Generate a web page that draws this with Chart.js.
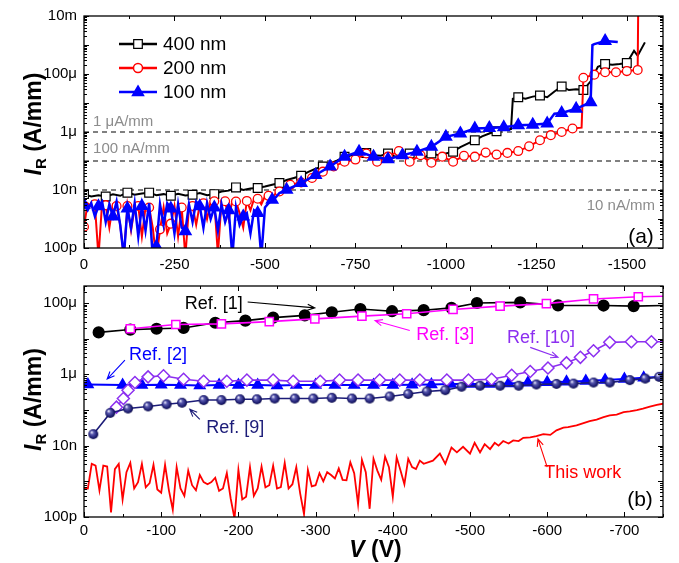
<!DOCTYPE html>
<html>
<head>
<meta charset="utf-8">
<script src="https://cdn.jsdelivr.net/npm/chart.js@4.4.1/dist/chart.umd.min.js"></script>
<style>
  html, body { margin: 0; padding: 0; background: #fff; }
  #wrap { position: relative; width: 679px; height: 563px; }
  canvas { position: absolute; left: 0; }
  #chartA { top: 0; }
  #chartB { top: 270px; }
</style>
</head>
<body>
<div id="wrap">
  <canvas id="chartA" width="679" height="270"></canvas>
  <canvas id="chartB" width="679" height="293"></canvas>
</div>
<script>
const FONT = '"Liberation Sans", Arial, Helvetica, sans-serif';

// ---------- panel (a): axes ----------
const xTicksA = [0, -250, -500, -750, -1000, -1250, -1500];
const yTicksA = [1e-10, 1e-8, 1e-6, 1e-4, 1e-2];
const yLabelsA = ['100p', '10n', '1μ', '100μ', '10m'];
const limitLevels = [1e-6, 1e-7, 1e-8];

// 400 nm
const v400 = [0, -20, -40, -60, -80, -100, -120, -140, -160, -180,
  -200, -220, -240, -260, -280, -300, -320, -340, -360, -380,
  -400, -420, -440, -460, -480, -500, -520, -540, -560, -580,
  -600, -620, -640, -660, -680, -700, -720, -740, -760, -780,
  -800, -820, -840, -860, -880, -900, -920, -940, -960, -980,
  -1000, -1020, -1040, -1060, -1080, -1100, -1120, -1140, -1160, -1180,
  -1185,
  -1200, -1220, -1240, -1260, -1280, -1300, -1320, -1340, -1360, -1380, -1400, -1420, -1440, -1460, -1480, -1500,
  -1520, -1530, -1550];
const i400 = [7.2e-9, 6.0e-9, 6.6e-9, 6.0e-9, 7.1e-9, 6.3e-9, 8.1e-9, 6.9e-9, 7.6e-9, 8.1e-9,
  6.6e-9, 7.2e-9, 6.3e-9, 7.4e-9, 6.5e-9, 6.9e-9, 7.9e-9, 6.6e-9, 7.2e-9, 8.9e-9,
  9.5e-9, 1.23e-8, 1.0e-8, 1.12e-8, 1.17e-8, 1.32e-8, 1.51e-8, 1.74e-8, 2.2e-8, 2.6e-8,
  3.1e-8, 4.2e-8, 5.4e-8, 6.5e-8, 8.3e-8, 1.05e-7, 1.41e-7, 1.58e-7, 1.66e-7, 1.9e-7,
  1.58e-7, 1.51e-7, 1.82e-7, 1.41e-7, 1.66e-7, 1.82e-7, 1.74e-7, 1.32e-7, 1.82e-7, 1.58e-7,
  1.82e-7, 2.1e-7, 3.0e-7, 4.0e-7, 5.2e-7, 7.1e-7, 8.9e-7, 1.07e-6, 1.2e-6, 1.26e-6,
  1.41e-5,
  1.58e-5, 1.41e-5, 1.66e-5, 1.82e-5, 1.58e-5, 2.5e-5, 3.7e-5, 2.8e-5, 3.0e-5, 2.8e-5, 5.6e-5, 1.78e-4, 2.2e-4, 2.1e-4, 2.2e-4, 2.4e-4,
  6.3e-4, 4.3e-4, 1.23e-3];

// 200 nm
const v200 = [0, -10, -20, -30, -40, -50, -60, -70, -80, -90,
  -100, -110, -120, -130, -140, -150, -160, -170, -180, -190,
  -200, -210, -220, -230, -240, -250, -260, -270, -280, -290,
  -300, -310, -320, -330, -340, -350, -360, -370, -380, -390,
  -400, -410, -420, -430, -440, -450, -460, -470, -480, -490,
  -500, -510, -520, -530, -540, -550, -560,
  -570, -600, -630, -660, -690, -720, -750, -780, -810, -840, -870, -900, -930,
  -960, -990, -1020, -1050, -1080, -1110, -1140, -1170, -1200, -1230, -1260, -1290, -1320, -1350,
  -1375, -1380, -1410, -1440, -1470, -1500, -1530, -1532];
const i200 = [5.4e-10, 3.5e-9, 2.8e-9, 3.2e-9, 5e-11, 3.5e-9, 3.0e-9, 5.0e-10, 3.2e-9, 2.8e-9,
  6.3e-10, 5e-11, 2.8e-9, 4.0e-10, 2.5e-9, 2.8e-9, 2.5e-10, 2.5e-9, 2.5e-9, 5.0e-10,
  4e-11, 4.4e-10, 2.5e-9, 3.2e-10, 6.9e-10, 2.8e-9, 2.5e-10, 2.5e-9, 5e-11, 2.5e-9,
  2.8e-9, 6.3e-10, 3.2e-9, 3.5e-9, 1.0e-9, 4.0e-9, 4.1e-9, 6e-11, 4.0e-9, 4.1e-9,
  1.0e-9, 4.5e-9, 4.0e-9, 1.6e-9, 5.0e-10, 4.2e-9, 2.0e-9, 5.0e-9, 5.0e-9, 3.2e-9,
  6.0e-9, 6.3e-9, 5.0e-9, 7.9e-9, 8.9e-9, 1.0e-8, 1.32e-8,
  1.51e-8, 1.82e-8, 2.6e-8, 4.3e-8, 6.5e-8, 9.5e-8, 1.12e-7, 1.82e-7, 9.5e-8, 1.41e-7, 2.2e-7, 9.5e-8, 1.58e-7,
  8.7e-8, 1.41e-7, 9.5e-8, 1.51e-7, 1.41e-7, 1.95e-7, 1.66e-7, 1.9e-7, 2.2e-7, 3.2e-7, 5.2e-7, 7.8e-7, 1.0e-6, 1.32e-6,
  1.41e-6, 7.4e-5, 9.5e-5, 1.15e-4, 1.15e-4, 1.26e-4, 1.38e-4, 0.1];

// 100 nm
const v100 = [0, -10, -20, -30, -40, -50, -60, -70, -80, -90,
  -100, -110, -120, -130, -140, -150, -160, -170, -180, -190,
  -200, -210, -220, -230, -240, -250, -260, -270, -280, -290,
  -300, -310, -320, -330, -340, -350, -360, -370, -380, -390,
  -400, -410, -420, -430, -440, -450, -460, -470, -480, -490,
  -500, -510, -520, -530, -540, -550, -560,
  -600, -640, -680, -720, -760, -800, -840, -880, -920, -960,
  -1000, -1040, -1080, -1120, -1160, -1200, -1240, -1280,
  -1300, -1320, -1360, -1400, -1405, -1410, -1440, -1475];
const i100 = [3.1e-9, 2.0e-9, 3.5e-9, 1.26e-9, 2.75e-9, 4.0e-9, 7.9e-10, 3.2e-9, 1.23e-9, 4.0e-9,
  6.3e-10, 5e-11, 2.3e-9, 5.0e-10, 3.5e-9, 2.5e-10, 2.8e-9, 4.0e-10, 3.5e-9, 5e-11,
  1.12e-10, 3.2e-9, 6.3e-10, 3.5e-9, 2.3e-9, 3.2e-10, 3.2e-9, 5.0e-10, 3.8e-10, 3.2e-9,
  7.9e-10, 4.0e-9, 2.75e-9, 5.0e-10, 3.5e-9, 1.0e-9, 2.5e-9, 4.0e-10, 3.2e-9, 7.9e-10,
  2.0e-9, 5e-11, 2.5e-9, 6.3e-10, 1.23e-9, 1.6e-9, 3.2e-10, 2.0e-9, 1.6e-9, 5e-11,
  2.5e-9, 3.5e-9, 4.6e-9, 5.6e-9, 7.9e-9, 8.9e-9, 1.02e-8,
  1.74e-8, 3.3e-8, 6.5e-8, 1.41e-7, 2.1e-7, 1.41e-7, 1.15e-7, 1.58e-7, 2.1e-7, 3.1e-7,
  6.8e-7, 8.9e-7, 1.32e-6, 1.38e-6, 1.45e-6, 1.7e-6, 1.78e-6, 1.95e-6,
  4.3e-6, 4.5e-6, 6.3e-6, 1.07e-5, 1.0e-3, 1.07e-3, 1.38e-3, 1.26e-3];

// ---------- panel (b): axes ----------
const xTicksB = [0, -100, -200, -300, -400, -500, -600, -700];
const yTicksB = [1e-10, 1e-8, 1e-6, 1e-4];
const yLabelsB = ['100p', '10n', '1μ', '100μ'];

// Ref. [1]
const ref1V = [-19, -60, -94, -129, -170, -209, -245, -286, -321, -358, -399, -440, -476, -509, -565, -614, -673, -712, -750];
const ref1I = [1.5e-5, 1.8e-5, 1.9e-5, 2.0e-5, 2.8e-5, 3.2e-5, 3.9e-5, 4.5e-5, 5.5e-5, 6.8e-5, 5.9e-5, 6.3e-5, 7.3e-5, 1.0e-4, 1.04e-4, 8.6e-5, 8.5e-5, 8.2e-5, 8.5e-5];
// Ref. [3]
const ref3V = [-60, -119, -178, -240, -299, -360, -418, -478, -539, -599, -660, -718, -750];
const ref3I = [1.9e-5, 2.5e-5, 2.6e-5, 3.0e-5, 3.6e-5, 4.3e-5, 5.0e-5, 6.6e-5, 8.2e-5, 9.6e-5, 1.3e-4, 1.5e-4, 1.55e-4];
// Ref. [2]
const ref2V = [-5, -50, -75, -100, -125, -150, -175, -200, -225, -250, -275, -300, -325, -350, -375,
  -400, -425, -450, -475, -500, -525, -550, -575, -600, -625, -650, -675, -700, -725, -750];
const ref2I = [5.2e-7, 5.0e-7, 5.0e-7, 5.1e-7, 5.0e-7, 4.9e-7, 5.0e-7, 5.0e-7, 5.0e-7, 4.9e-7, 5.0e-7, 5.0e-7, 5.0e-7, 5.0e-7, 5.0e-7,
  5.0e-7, 5.1e-7, 5.2e-7, 5.4e-7, 5.4e-7, 5.4e-7, 5.5e-7, 5.8e-7, 6.0e-7, 6.2e-7, 6.5e-7, 6.9e-7, 7.4e-7, 8.0e-7, 8.5e-7];
// Ref. [9]
const ref9V = [-12, -34, -57, -83, -107, -127, -155, -178, -202, -224, -247, -273, -297, -321, -347, -370,
  -396, -420, -444, -468, -489, -513, -539, -563, -586, -612, -634, -660, -681, -707, -727, -745];
const ref9I = [2.1e-8, 8.3e-8, 1.1e-7, 1.26e-7, 1.45e-7, 1.6e-7, 1.9e-7, 1.9e-7, 2.0e-7, 2.0e-7, 2.1e-7, 2.1e-7, 2.1e-7, 2.2e-7, 2.1e-7, 2.1e-7,
  2.4e-7, 2.8e-7, 3.3e-7, 3.6e-7, 4.5e-7, 4.8e-7, 4.8e-7, 4.8e-7, 5.2e-7, 5.4e-7, 5.5e-7, 5.9e-7, 5.9e-7, 6.9e-7, 7.6e-7, 8.5e-7];
// Ref. [10]
const ref10V = [-42, -51, -57, -66, -83, -103, -129, -155, -185, -211, -245, -271, -306, -331, -355, -383,
  -409, -435, -470, -498, -528, -554, -578, -601, -625, -643, -660, -681, -709, -735, -750];
const ref10I = [1.2e-7, 2.1e-7, 3.6e-7, 5.9e-7, 8.5e-7, 9.1e-7, 7.3e-7, 6.4e-7, 6.4e-7, 6.9e-7, 6.9e-7, 6.4e-7, 6.4e-7, 6.9e-7, 6.9e-7, 6.9e-7,
  6.9e-7, 6.9e-7, 6.9e-7, 6.9e-7, 7.3e-7, 9.4e-7, 1.2e-6, 1.5e-6, 2.1e-6, 3.0e-6, 4.6e-6, 7.9e-6, 8.2e-6, 8.2e-6, 8.2e-6];
// This work
const workV = [0, -5, -10, -15, -20, -25, -30, -35, -40, -45,
  -50, -55, -60, -65, -70, -75, -80, -85, -90, -95,
  -100, -105, -110, -115, -120, -125, -130, -135, -140, -145,
  -150, -155, -160, -165, -170, -175, -180, -185, -190, -195,
  -200, -205, -210, -215, -220, -225, -230, -235, -240, -245,
  -250, -255, -260, -265, -270, -275, -280, -285, -290, -295,
  -300, -305, -310, -315, -320, -325, -330, -335, -340, -345,
  -350, -355, -360, -365, -370, -375, -380, -385, -390, -395,
  -400, -405, -410, -415, -420, -425, -430, -435, -440,
  -452, -461, -468, -476, -483, -491, -500, -506, -513, -519, -526, -532, -537, -543, -550, -556, -563, -569, -578, -586,
  -595, -604, -612, -621, -627, -638, -647, -655, -664, -673, -681, -690, -699, -707, -716, -724, -733, -742, -750];
const workI = [6.3e-10, 6.3e-10, 3.1e-9, 2.75e-9, 5.6e-10, 2.75e-9, 2.6e-9, 1.35e-10, 2.2e-9, 3.1e-9,
  3.1e-10, 1.8e-9, 3.3e-9, 6.3e-10, 9.5e-10, 3.1e-9, 6.8e-10, 8.9e-10, 2.9e-9, 5.9e-10,
  4.8e-10, 2.9e-9, 5.6e-10, 1.6e-10, 2.5e-9, 6.3e-10, 3.9e-10, 2.0e-9, 7.8e-10, 5.6e-10,
  1.5e-9, 9.5e-10, 8.3e-10, 9.5e-10, 1.26e-9, 5.4e-10, 6.3e-10, 1.7e-9, 3.3e-10, 9e-11,
  2.1e-9, 3.1e-10, 3.7e-10, 2.5e-9, 3.9e-10, 6.3e-10, 2.6e-9, 6.8e-10, 7.8e-10, 2.75e-9,
  6.3e-10, 6.9e-10, 3.3e-9, 6.3e-10, 8.3e-10, 2.5e-9, 4.6e-10, 1.2e-10, 2.1e-9, 7.2e-10,
  7.8e-10, 1.7e-9, 1.0e-9, 1.8e-9, 1.5e-9, 1.2e-9, 2.3e-9, 1.1e-9, 1.07e-9, 3.4e-9,
  1.7e-9, 2.3e-10, 4.0e-9, 1.8e-9, 1.7e-10, 4.3e-9, 2.0e-9, 1.1e-9, 4.9e-9, 2.5e-9,
  3.7e-10, 4.7e-9, 2.0e-9, 8.3e-10, 4.3e-9, 2.5e-9, 2.2e-9, 3.8e-9, 3.1e-9,
  3.8e-9, 6.0e-9, 3.1e-9, 8.9e-9, 6.5e-9, 9.3e-9, 6.0e-9, 1.2e-8, 6.5e-9, 1.1e-8, 8.0e-9, 1.2e-8, 1.0e-8, 1.35e-8, 1.15e-8, 1.4e-8, 1.35e-8, 1.66e-8, 1.7e-8, 1.85e-8,
  2.1e-8, 2.0e-8, 2.7e-8, 3.2e-8, 3.3e-8, 3.7e-8, 4.3e-8, 4.9e-8, 5.4e-8, 6.3e-8, 7.1e-8, 7.4e-8, 8.7e-8, 9.1e-8, 1.0e-7, 1.1e-7, 1.25e-7, 1.4e-7, 1.5e-7];

// ---------- helpers ----------
const pts = (xs, ys) => xs.map((v, k) => ({ x: v, y: ys[k] }));
const everyV = (xs, step, r) => c => (xs[c.dataIndex] % step === 0 ? r : 0);
const notLast = (xs, r) => c => (c.dataIndex < xs.length - 1 ? r : 0);

function sphere(r) {
  const c = document.createElement('canvas');
  c.width = c.height = 2 * r + 2;
  const g = c.getContext('2d');
  const grad = g.createRadialGradient(r + 1 - r * 0.35, r + 1 - r * 0.4, 0.3, r + 1, r + 1, r + 0.5);
  grad.addColorStop(0, '#f0f0ff');
  grad.addColorStop(0.3, '#5a5ab0');
  grad.addColorStop(0.75, '#1c1c70');
  grad.addColorStop(1, '#0a0a3a');
  g.fillStyle = grad;
  g.beginPath();
  g.arc(r + 1, r + 1, r, 0, Math.PI * 2);
  g.fill();
  return c;
}

function arrow(ctx, x1, y1, x2, y2) {
  const ang = Math.atan2(y2 - y1, x2 - x1), h = 8, s = 0.4;
  ctx.beginPath();
  ctx.moveTo(x1, y1); ctx.lineTo(x2, y2);
  ctx.moveTo(x2 - h * Math.cos(ang - s), y2 - h * Math.sin(ang - s));
  ctx.lineTo(x2, y2);
  ctx.lineTo(x2 - h * Math.cos(ang + s), y2 - h * Math.sin(ang + s));
  ctx.stroke();
}

// box + inward ticks on all four sides
const frame = {
  id: 'frame',
  afterDatasetsDraw(chart, args, o) {
    const { ctx, chartArea: a, scales: { x, y } } = chart;
    ctx.save();
    ctx.strokeStyle = '#000';
    ctx.lineWidth = 1;
    ctx.beginPath();
    const e0 = Math.floor(Math.log10(y.min) + 1e-9), e1 = Math.ceil(Math.log10(y.max));
    for (let e = e0; e <= e1; e++) {
      for (let m = 1; m <= 9; m++) {
        const v = m * Math.pow(10, e);
        if (v < y.min * 0.999 || v > y.max * 1.001) continue;
        const py = Math.round(y.getPixelForValue(v)) + 0.5;
        const len = m === 1 ? 5 : 3;
        ctx.moveTo(a.left, py); ctx.lineTo(a.left + len, py);
        ctx.moveTo(a.right, py); ctx.lineTo(a.right - len, py);
      }
    }
    for (let k = 0; ; k++) {
      const v = -k * o.minor;
      if (v < x.min - 1e-6) break;
      const px = Math.round(x.getPixelForValue(v)) + 0.5;
      const len = k % 2 === 0 ? 5 : 3;
      ctx.moveTo(px, a.bottom); ctx.lineTo(px, a.bottom - len);
      ctx.moveTo(px, a.top); ctx.lineTo(px, a.top + len);
    }
    ctx.stroke();
    ctx.lineWidth = 1.3;
    ctx.strokeRect(a.left, a.top, a.right - a.left, a.bottom - a.top);
    ctx.restore();
  }
};

// rotated "I_R (A/mm)"
const yTitle = {
  id: 'yTitle',
  afterDraw(chart, args, o) {
    const { ctx, chartArea: a } = chart;
    ctx.save();
    ctx.translate(33, (a.top + a.bottom) / 2 + o.shift);
    ctx.rotate(-Math.PI / 2);
    ctx.fillStyle = '#000';
    ctx.textBaseline = 'alphabetic';
    const it = 'italic bold 23px ' + FONT, big = 'bold 23px ' + FONT, sub = 'bold 15px ' + FONT;
    ctx.font = it; const w1 = ctx.measureText('I').width;
    ctx.font = sub; const w2 = ctx.measureText('R').width;
    ctx.font = big; const w3 = ctx.measureText(' (A/mm)').width;
    const x0 = -(w1 + w2 + w3) / 2;
    ctx.font = it; ctx.fillText('I', x0, 8);
    ctx.font = sub; ctx.fillText('R', x0 + w1, 13);
    ctx.font = big; ctx.fillText(' (A/mm)', x0 + w1 + w2, 8);
    ctx.restore();
  }
};

Chart.register(frame, yTitle);
Chart.defaults.font.family = FONT;
Chart.defaults.color = '#000';

function axes(xmin, xticks, ymin, ymax, yticks, ylabels, xpad) {
  return {
    x: {
      type: 'linear', min: xmin, max: 0, reverse: true,
      grid: { display: false, drawTicks: false }, border: { display: false },
      ticks: { font: { size: 15 }, color: '#000', padding: xpad, maxRotation: 0, autoSkip: false, callback: v => String(v) },
      afterBuildTicks: s => { s.ticks = xticks.map(v => ({ value: v })); },
      afterFit: s => { s.height = 22; s.paddingLeft = 0; s.paddingRight = 0; }
    },
    y: {
      type: 'logarithmic', min: ymin, max: ymax,
      grid: { display: false, drawTicks: false }, border: { display: false },
      ticks: { font: { size: 15 }, color: '#000', padding: 7, autoSkip: false, callback: (v, k) => ylabels[k] },
      afterBuildTicks: s => { s.ticks = yticks.map(v => ({ value: v })); },
      afterFit: s => { s.width = 84; }
    }
  };
}

// ---------- panel (a) ----------
const legendA = [
  { text: '400 nm', color: '#000', shape: 'square' },
  { text: '200 nm', color: '#ff0000', shape: 'circle' },
  { text: '100 nm', color: '#0000ff', shape: 'triangle' }
];
const levelNotes = [
  { text: '1 μA/mm', v: -25, i: 2.2e-6, align: 'left' },
  { text: '100 nA/mm', v: -25, i: 2.6e-7, align: 'left' },
  { text: '10 nA/mm', v: -1578, i: 2.9e-9, align: 'right' }
];

function marker(ctx, shape, x, y, color) {
  ctx.save();
  ctx.strokeStyle = color; ctx.lineWidth = 1.5;
  ctx.beginPath();
  if (shape === 'square') { ctx.rect(x - 4.3, y - 4.3, 8.6, 8.6); ctx.fillStyle = '#fff'; ctx.fill(); ctx.strokeStyle = '#000'; ctx.lineWidth = 1.2; ctx.stroke(); }
  else if (shape === 'circle') { ctx.arc(x, y, 4.5, 0, Math.PI * 2); ctx.fillStyle = '#fff'; ctx.fill(); ctx.stroke(); }
  else { ctx.moveTo(x, y - 6); ctx.lineTo(x + 5.5, y + 3.5); ctx.lineTo(x - 5.5, y + 3.5); ctx.closePath(); ctx.fillStyle = color; ctx.fill(); ctx.stroke(); }
  ctx.restore();
}

const panelA = {
  id: 'panelA',
  afterDraw(chart) {
    const { ctx, chartArea: a, scales: { x, y } } = chart;
    ctx.save();
    ctx.textBaseline = 'middle';
    ctx.font = '15px ' + FONT;
    ctx.fillStyle = '#8c8c8c';
    levelNotes.forEach(n => {
      ctx.textAlign = n.align;
      ctx.fillText(n.text, x.getPixelForValue(n.v), y.getPixelForValue(n.i));
    });
    legendA.forEach((it, k) => {
      const ly = a.top + 28 + k * 24;
      ctx.strokeStyle = it.color; ctx.lineWidth = 2.5;
      ctx.beginPath(); ctx.moveTo(a.left + 35, ly); ctx.lineTo(a.left + 73, ly); ctx.stroke();
      marker(ctx, it.shape, a.left + 54, ly, it.color);
      ctx.fillStyle = '#000'; ctx.textAlign = 'left'; ctx.font = '19px ' + FONT;
      ctx.fillText(it.text, a.left + 79, ly + 1);
    });
    ctx.font = '21px ' + FONT; ctx.fillStyle = '#000'; ctx.textAlign = 'center';
    ctx.fillText('(a)', a.right - 22, a.bottom - 11);
    ctx.restore();
  }
};

new Chart(document.getElementById('chartA'), {
  type: 'line',
  data: {
    datasets: [
      { data: pts(v100, i100), borderColor: '#0000ff', borderWidth: 2.5, pointStyle: 'triangle',
        pointRadius: everyV(v100, 40, 5.5), pointBackgroundColor: '#0000ff', pointBorderColor: '#0000ff', order: 1 },
      { data: pts(v200, i200), borderColor: '#ff0000', borderWidth: 2, pointStyle: 'circle',
        pointRadius: everyV(v200, 30, 4.4), pointBackgroundColor: '#fff', pointBorderColor: '#ff0000', pointBorderWidth: 1.3, order: 2 },
      { data: pts(v400, i400), borderColor: '#000', borderWidth: 2, pointStyle: 'rect',
        pointRadius: everyV(v400, 60, 6.2), pointBackgroundColor: '#fff', pointBorderColor: '#000', pointBorderWidth: 1.2, order: 3 },
      ...limitLevels.map(lv => ({
        data: [{ x: 0, y: lv }, { x: -1600, y: lv }],
        borderColor: '#808080', borderWidth: 2, borderDash: [5, 4], pointRadius: 0, order: 10
      }))
    ]
  },
  options: {
    responsive: false, animation: false, devicePixelRatio: 1,
    layout: { padding: { top: 15, right: 16, left: 0, bottom: 0 } },
    plugins: { legend: { display: false }, tooltip: { enabled: false }, frame: { minor: 125 }, yTitle: { shift: -8 } },
    scales: axes(-1600, xTicksA, 1e-10, 1e-2, yTicksA, yLabelsA, 8)
  },
  plugins: [panelA]
});

// ---------- panel (b) ----------
const refNotes = [
  { text: 'Ref. [1]', color: '#000', v: -168, i: 9.3e-5, from: [-212, 1.07e-4], to: [-299, 7.3e-5] },
  { text: 'Ref. [3]', color: '#ff00ff', v: -468, i: 1.3e-5, from: [-422, 1.7e-5], to: [-377, 3.2e-5] },
  { text: 'Ref. [2]', color: '#0000ff', v: -96, i: 3.4e-6, from: [-53, 2.5e-6], to: [-30, 7.4e-7] },
  { text: 'Ref. [9]', color: '#1c1c78', v: -196, i: 3.1e-8, from: [-150, 5.5e-8], to: [-137, 1.05e-7] },
  { text: 'Ref. [10]', color: '#8c2ff0', v: -592, i: 1.07e-5, from: [-578, 5.7e-6], to: [-614, 3.0e-6] },
  { text: 'This work', color: '#ff0000', v: -646, i: 1.66e-9, from: [-600, 2.5e-9], to: [-588, 1.55e-8] }
];

const panelB = {
  id: 'panelB',
  afterDraw(chart) {
    const { ctx, chartArea: a, scales: { x, y } } = chart;
    ctx.save();
    ctx.textBaseline = 'middle'; ctx.textAlign = 'center';
    ctx.font = '18px ' + FONT;
    ctx.lineWidth = 1.1;
    refNotes.forEach(n => {
      ctx.fillStyle = n.color; ctx.strokeStyle = n.color;
      ctx.fillText(n.text, x.getPixelForValue(n.v), y.getPixelForValue(n.i));
      arrow(ctx, x.getPixelForValue(n.from[0]), y.getPixelForValue(n.from[1]),
        x.getPixelForValue(n.to[0]), y.getPixelForValue(n.to[1]));
    });
    ctx.font = '21px ' + FONT; ctx.fillStyle = '#000';
    ctx.fillText('(b)', a.right - 23, a.bottom - 17);
    // x title "V (V)"
    const it = 'italic bold 23px ' + FONT, big = 'bold 23px ' + FONT;
    ctx.textAlign = 'left'; ctx.textBaseline = 'alphabetic';
    ctx.font = it; const w1 = ctx.measureText('V').width;
    ctx.font = big; const w2 = ctx.measureText(' (V)').width;
    const x0 = (a.left + a.right) / 2 + 2 - (w1 + w2) / 2, by = a.bottom + 40;
    ctx.font = it; ctx.fillText('V', x0, by);
    ctx.font = big; ctx.fillText(' (V)', x0 + w1, by);
    ctx.restore();
  }
};

new Chart(document.getElementById('chartB'), {
  type: 'line',
  data: {
    datasets: [
      { data: pts(workV, workI), borderColor: '#ff0000', borderWidth: 1.8, pointRadius: 0, order: 1 },
      { data: pts(ref9V, ref9I), borderColor: '#1c1c78', borderWidth: 1.6, pointStyle: sphere(5), pointRadius: 5, order: 2 },
      { data: pts(ref10V, ref10I), borderColor: '#8c2ff0', borderWidth: 1.6, pointStyle: 'rectRot',
        pointRadius: notLast(ref10V, 6), pointBackgroundColor: '#fff', pointBorderColor: '#8c2ff0', pointBorderWidth: 1.5, order: 3 },
      { data: pts(ref2V, ref2I), borderColor: '#0000ff', borderWidth: 2, pointStyle: 'triangle',
        pointRadius: 5.5, pointBackgroundColor: '#0000ff', pointBorderColor: '#0000ff', order: 4 },
      { data: pts(ref3V, ref3I), borderColor: '#ff00ff', borderWidth: 1.6, pointStyle: 'rect',
        pointRadius: notLast(ref3V, 5.8), pointBackgroundColor: '#fff', pointBorderColor: '#ff00ff', pointBorderWidth: 1.5, order: 5 },
      { data: pts(ref1V, ref1I), borderColor: '#000', borderWidth: 1.6, pointStyle: 'circle',
        pointRadius: notLast(ref1V, 5.3), pointBackgroundColor: '#000', pointBorderColor: '#000', order: 6 }
    ]
  },
  options: {
    responsive: false, animation: false, devicePixelRatio: 1,
    layout: { padding: { top: 13, right: 16, left: 0, bottom: 24 } },
    plugins: { legend: { display: false }, tooltip: { enabled: false }, frame: { minor: 50 }, yTitle: { shift: -2 } },
    scales: axes(-750, xTicksB, 1e-10, 3e-4, yTicksB, yLabelsB, 5)
  },
  plugins: [panelB]
});
</script>
</body>
</html>
